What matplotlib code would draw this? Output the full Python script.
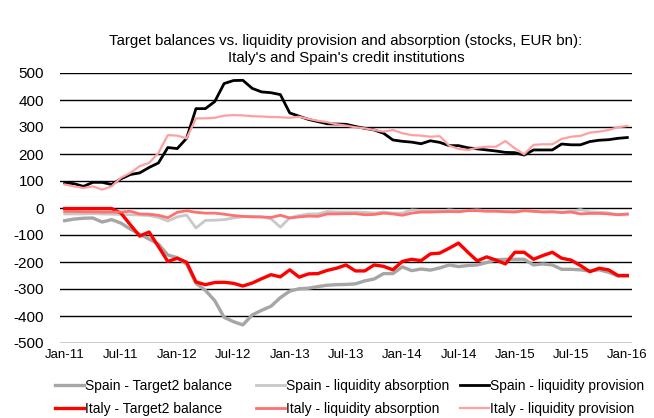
import matplotlib
matplotlib.use("Agg")
import matplotlib.pyplot as plt
import numpy as np

plt.rcParams['font.family'] = ['Liberation Sans', 'DejaVu Sans']

tick_labels = ["Jan-11", "Jul-11", "Jan-12", "Jul-12", "Jan-13", "Jul-13",
               "Jan-14", "Jul-14", "Jan-15", "Jul-15", "Jan-16"]

spain_target2 = [-47, -41, -38, -37, -52, -43, -56, -78, -97, -115, -134, -174, -184, -208,
                 -279, -305, -343, -405, -421, -433, -396, -379, -364, -332, -308, -299, -297,
                 -291, -286, -284, -283, -281, -270, -263, -243, -243, -218, -232, -226, -230,
                 -222, -211, -217, -213, -211, -202, -192, -190, -190, -190, -211, -207, -211,
                 -227, -227, -229, -233, -229, -238, -252, -252]
spain_absorption = [-22, -22, -22, -21, -22, -23, -24, -25, -26, -28, -35, -48, -33, -26, -74,
                    -46, -45, -43, -37, -32, -31, -33, -40, -71, -36, -28, -22, -22, -13, -15,
                    -15, -15, -16, -19, -15, -19, -19, -7, -9, -12, -12, -7, -10, -9, -7, -10,
                    -10, -12, -12, -10, -12, -14, -14, -15, -12, -6, -14, -16, -18, -25, -25]
spain_provision = [93, 90, 80, 95, 95, 87, 108, 124, 130, 150, 167, 224, 220, 258, 368, 368,
                   394, 461, 472, 473, 443, 430, 427, 420, 352, 340, 328, 320, 312, 311, 310,
                   302, 295, 289, 277, 252, 247, 244, 238, 249, 243, 231, 231, 223, 219, 215,
                   211, 206, 205, 196, 215, 215, 215, 237, 234, 234, 246, 251, 253, 258, 261]
italy_target2 = [-2, -2, -2, -2, -2, -2, -19, -62, -104, -89, -143, -198, -186, -201, -274,
                 -284, -276, -275, -279, -289, -278, -262, -247, -255, -229, -256, -244, -243,
                 -231, -223, -211, -233, -233, -211, -216, -229, -198, -190, -195, -170, -167,
                 -149, -130, -164, -196, -181, -193, -207, -164, -164, -190, -176, -164, -186,
                 -193, -213, -236, -223, -229, -250, -250]
italy_absorption = [-13, -13, -14, -14, -15, -15, -15, -12, -22, -23, -27, -36, -16, -10, -16,
                    -19, -19, -23, -28, -31, -33, -33, -35, -27, -37, -33, -30, -31, -22, -22,
                    -21, -21, -25, -24, -19, -22, -27, -19, -15, -15, -14, -13, -14, -10, -10,
                    -12, -12, -14, -15, -10, -12, -15, -14, -17, -15, -22, -20, -20, -22, -25, -22]
italy_provision = [87, 80, 74, 80, 68, 80, 112, 130, 155, 167, 204, 270, 268, 258, 332, 332,
                   334, 342, 344, 343, 340, 339, 337, 336, 334, 338, 330, 323, 318, 310, 305,
                   299, 295, 289, 283, 289, 277, 270, 268, 264, 266, 231, 219, 215, 223, 227,
                   227, 248, 221, 199, 234, 236, 236, 256, 264, 267, 279, 283, 289, 299, 304]

x = np.arange(len(spain_target2))

W, H = 654, 418
fig = plt.figure(figsize=(W/100, H/100), dpi=100)
ax = fig.add_axes([60/W, 1-343/H, 572/W, 270/H])

for v in range(-500, 501, 100):
    ax.axhline(v, color='black', lw=1.0, zorder=1)

l1, = ax.plot(x, spain_target2, color='#A6A6A6', lw=2.4, label='Spain - Target2 balance', zorder=3)
l2, = ax.plot(x, spain_absorption, color='#C8C8C8', lw=2.0, label='Spain - liquidity absorption', zorder=3)
l3, = ax.plot(x, spain_provision, color='black', lw=2.0, label='Spain - liquidity provision', zorder=3)
l4, = ax.plot(x, italy_target2, color='#FF0000', lw=2.4, label='Italy - Target2 balance', zorder=4)
l5, = ax.plot(x, italy_absorption, color='#FF7070', lw=2.0, label='Italy - liquidity absorption', zorder=4)
l6, = ax.plot(x, italy_provision, color='#FFA0A0', lw=1.6, label='Italy - liquidity provision', zorder=4)

ax.set_xlim(-0.5, 60.5)
ax.set_ylim(-500, 500)
ax.set_yticks(range(-500, 501, 100))
ax.set_yticklabels([str(v) for v in range(-500, 501, 100)], fontsize=11)
ax.set_xticks(range(0, 61, 6))
ax.set_xticklabels(tick_labels, fontsize=9.5)
ax.tick_params(axis='y', length=0, pad=11.5)
ax.tick_params(axis='x', length=0, pad=4)
for s in ax.spines.values():
    s.set_visible(False)

fig.text(346/W, 1-41/H, "Target balances vs. liquidity provision and absorption (stocks, EUR bn):",
         ha='center', va='center', fontsize=10.8)
fig.text(346/W, 1-58/H, "Italy's and Spain's credit institutions",
         ha='center', va='center', fontsize=10.8)

columns = [(55, [l1, l4]), (256, [l2, l5]), (460, [l3, l6])]
for xpos, hs in columns:
    fig.legend(handles=hs, labels=[h.get_label() for h in hs], ncol=1,
               loc='upper left', bbox_to_anchor=(xpos/W, 1-379/H), frameon=False,
               fontsize=10, handlelength=2.1, handletextpad=0.05,
               labelspacing=0.62, borderpad=0, borderaxespad=0)

fig.savefig('out.png', dpi=100)
